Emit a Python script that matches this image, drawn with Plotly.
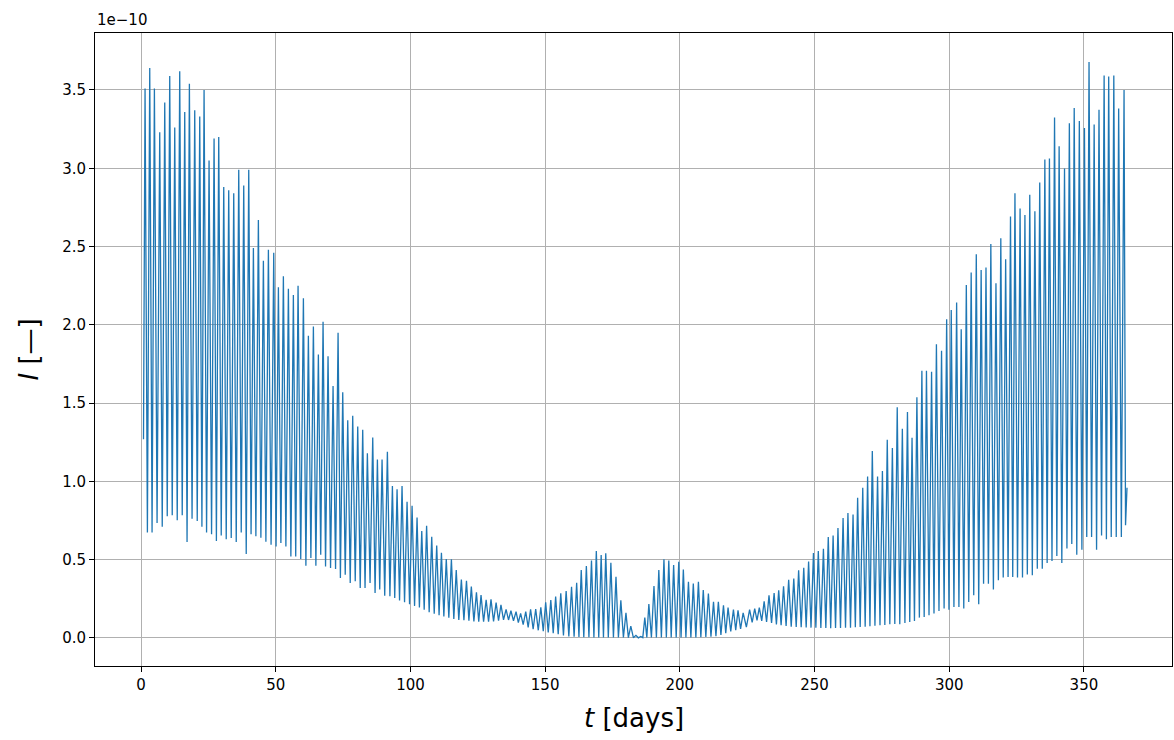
import plotly.graph_objects as go

# Values (I in units of 1e-10, t in days)
start_t, start_v = 0.9, 1.27
end_t, end_v = 366.0, 0.96

peak_t = [1.48, 3.22, 4.95, 6.93, 8.79, 10.64, 12.50, 14.35, 16.21, 17.94,
          19.92, 21.78, 23.39, 25.24, 27.10, 28.83, 30.69, 32.54, 34.40, 36.26,
          38.11, 39.97, 41.70, 43.55, 45.41, 47.27, 49.25, 50.98, 52.83, 54.69,
          56.54, 58.28, 60.26, 62.11, 63.97, 65.82, 67.56, 69.41, 71.27, 73.13,
          74.86, 76.72, 78.57, 80.43, 82.28, 84.01, 86.00, 87.73, 89.46, 91.44,
          93.30, 95.03, 96.88, 98.74, 100.6, 102.45, 104.2, 106.0, 107.9, 109.75,
          111.5, 113.3, 115.2, 117.0, 118.9, 120.8, 122.6, 124.5, 126.2, 128.1,
          129.9, 131.8, 133.6, 135.5, 137.3, 139.2, 140.9, 142.8, 144.6, 146.5,
          148.4, 150.2, 152.1, 153.9, 155.8, 157.8, 159.8, 161.7, 163.4, 165.3,
          167.2, 169.0, 170.8, 172.5, 174.4, 176.3, 178.1, 180.0, 181.8, 183.7,
          185.5, 187.0, 188.5, 190.4, 192.2, 194.1, 195.9, 197.7, 199.6, 201.3,
          203.2, 205.0, 206.9, 208.7, 210.6, 212.5, 214.3, 216.2, 217.9, 219.9,
          221.6, 223.5,
          225.9, 227.8, 229.5, 231.3, 233.1, 235.0, 236.7, 238.5, 240.4, 242.3,
          244.1, 246.0, 247.8, 249.6, 251.4, 253.3, 255.1, 256.9, 258.7, 260.6,
          262.4, 264.3, 266.0, 267.9, 269.7, 271.45, 273.4, 275.2, 277.0, 278.9,
          280.7, 282.6, 284.5, 286.2, 288.0, 289.85, 291.55, 293.45, 295.25, 297.15,
          299.05, 300.75, 302.75, 304.45, 306.35, 308.15, 310.05, 311.85, 313.65, 315.45,
          317.35, 319.15, 320.95, 322.75, 324.4, 326.3, 328.1, 329.9, 331.8, 333.6,
          335.5, 337.2, 339.1, 340.8, 342.8, 344.6, 346.4, 348.3, 350.2, 351.9,
          353.8, 355.6, 357.5, 359.2, 361.1, 362.9, 364.9]

peak_v = [3.51, 3.64, 3.51, 3.23, 3.42, 3.59, 3.26, 3.62, 3.36, 3.54,
          3.37, 3.33, 3.50, 3.05, 3.19, 3.20, 2.88, 2.86, 2.84, 2.99,
          2.89, 2.99, 2.49, 2.67, 2.41, 2.48, 2.46, 2.24, 2.31, 2.23,
          2.19, 2.25, 2.17, 1.93, 1.99, 1.81, 2.02, 1.80, 1.61, 1.95,
          1.57, 1.39, 1.42, 1.35, 1.33, 1.18, 1.28, 1.14, 1.14, 1.19,
          0.97, 0.95, 0.97, 0.87, 0.845, 0.77, 0.683, 0.717, 0.647, 0.591,
          0.545, 0.504, 0.502, 0.434, 0.374, 0.366, 0.328, 0.291, 0.274, 0.243,
          0.247, 0.226, 0.211, 0.183, 0.174, 0.168, 0.157, 0.168, 0.183, 0.185,
          0.196, 0.228, 0.243, 0.264, 0.285, 0.30, 0.327, 0.353, 0.434, 0.459,
          0.494, 0.556, 0.530, 0.541, 0.481, 0.391, 0.241, 0.160, 0.075, 0.017,
          0.010, 0.130, 0.216, 0.331, 0.434, 0.502, 0.494, 0.466, 0.487, 0.438,
          0.359, 0.348, 0.359, 0.306, 0.284, 0.231, 0.231, 0.209, 0.194, 0.182,
          0.177, 0.160,
          0.181, 0.187, 0.194, 0.234, 0.272, 0.287, 0.304, 0.330, 0.372, 0.379,
          0.432, 0.449, 0.489, 0.543, 0.555, 0.570, 0.645, 0.655, 0.702, 0.766,
          0.798, 0.789, 0.896, 0.960, 1.032, 1.194, 1.032, 1.066, 1.266, 1.213,
          1.474, 1.336, 1.443, 1.279, 1.537, 1.707, 1.707, 1.701, 1.876, 1.835,
          2.035, 2.095, 2.142, 1.971, 2.255, 2.334, 2.451, 2.351, 2.366, 2.517,
          2.266, 2.553, 2.419, 2.692, 2.841, 2.743, 2.701, 2.831, 2.726, 2.909,
          3.056, 3.063, 3.324, 3.141, 2.999, 3.288, 3.385, 3.302, 3.258, 3.679,
          3.280, 3.373, 3.593, 3.586, 3.593, 3.381, 3.500]

# minimum following each peak
trough_v = [0.674, 0.674, 0.735, 0.711, 0.777, 0.784, 0.752, 0.784, 0.613, 0.762,
            0.747, 0.711, 0.674, 0.662, 0.620, 0.655, 0.630, 0.638, 0.613, 0.674,
            0.537, 0.662, 0.650, 0.640, 0.615, 0.596, 0.585, 0.606, 0.585, 0.521,
            0.521, 0.504, 0.462, 0.511, 0.462, 0.532, 0.457, 0.447, 0.440, 0.383,
            0.404, 0.351, 0.362, 0.319, 0.319, 0.351, 0.287, 0.309, 0.270, 0.266,
            0.255, 0.240, 0.228, 0.215, 0.205, 0.195, 0.180, 0.165, 0.155, 0.145,
            0.137, 0.130, 0.122, 0.115, 0.113, 0.110, 0.106, 0.104, 0.104, 0.104,
            0.106, 0.110, 0.115, 0.115, 0.110, 0.098, 0.085, 0.068, 0.056, 0.049,
            0.043, 0.036, 0.030, 0.024, 0.016, 0.010, 0.008, 0.006, 0.005, 0.004,
            0.003, 0.003, 0.003, 0.003, 0.003, 0.003, 0.003, 0.002, 0.002, 0.001,
            0.002, 0.003, 0.003, 0.003, 0.003, 0.003, 0.003, 0.003, 0.003, 0.003,
            0.004, 0.004, 0.005, 0.006, 0.008, 0.012, 0.020, 0.030, 0.042, 0.050,
            0.058, 0.070,
            0.100, 0.112, 0.109, 0.102, 0.096, 0.087, 0.081, 0.076, 0.072, 0.070,
            0.068, 0.067, 0.066, 0.065, 0.064, 0.064, 0.063, 0.064, 0.064, 0.065,
            0.066, 0.068, 0.070, 0.072, 0.075, 0.078, 0.081, 0.083, 0.087, 0.090,
            0.087, 0.096, 0.102, 0.109, 0.130, 0.134, 0.145, 0.156, 0.173, 0.188,
            0.181, 0.198, 0.198, 0.188, 0.230, 0.273, 0.215, 0.347, 0.347, 0.309,
            0.369, 0.386, 0.390, 0.390, 0.386, 0.386, 0.405, 0.400, 0.442, 0.442,
            0.479, 0.491, 0.523, 0.479, 0.572, 0.601, 0.532, 0.564, 0.645, 0.645,
            0.564, 0.655, 0.630, 0.645, 0.645, 0.645, 0.720]

x_ticks = [0, 50, 100, 150, 200, 250, 300, 350]
y_ticks = [0.0, 0.5, 1.0, 1.5, 2.0, 2.5, 3.0, 3.5]

# assemble the alternating sequence of samples
t, v = [start_t], [start_v]
n = len(peak_t)
for i in range(n):
    t.append(peak_t[i]); v.append(peak_v[i])
    nxt = peak_t[i + 1] if i < n - 1 else end_t
    t.append((peak_t[i] + nxt) / 2); v.append(trough_v[i])
t.append(end_t); v.append(end_v)

fig = go.Figure()
fig.add_trace(go.Scatter(x=t, y=v, mode="lines",
                         line=dict(color="#1f77b4", width=1.3),
                         showlegend=False, hoverinfo="x+y"))

font = "DejaVu Sans, Liberation Sans, sans-serif"
axis_common = dict(showline=True, mirror=True, linecolor="black", linewidth=1,
                   showgrid=True, gridcolor="#b0b0b0", gridwidth=1.1,
                   zeroline=False, ticks="outside", ticklen=5, tickwidth=1,
                   tickcolor="black", tickfont=dict(family=font, size=15, color="black"))

fig.update_layout(
    width=1174, height=740,
    margin=dict(l=95, r=2, t=33, b=74),
    paper_bgcolor="white", plot_bgcolor="white",
    xaxis=dict(range=[-17.1, 382.7], tickvals=x_ticks,
               ticktext=[str(x) for x in x_ticks], **axis_common),
    yaxis=dict(range=[-0.179, 3.864], tickvals=y_ticks,
               ticktext=[f"{y:.1f}" for y in y_ticks], **axis_common),
    annotations=[
        dict(text="<i>t</i> [days]", xref="paper", yref="paper", x=0.5, y=0,
             xanchor="center", yanchor="middle", yshift=-52, showarrow=False,
             font=dict(family=font, size=26, color="black")),
        dict(text="<i>I</i> [—]", xref="paper", yref="paper", x=0, y=0.5,
             xanchor="center", yanchor="middle", xshift=-67, textangle=-90,
             showarrow=False, font=dict(family=font, size=26, color="black")),
        dict(text="1e−10", xref="paper", yref="paper", x=0, y=1,
             xanchor="left", yanchor="middle", yshift=13, showarrow=False,
             font=dict(family=font, size=15, color="black")),
    ],
)

fig.write_html("out.html")
